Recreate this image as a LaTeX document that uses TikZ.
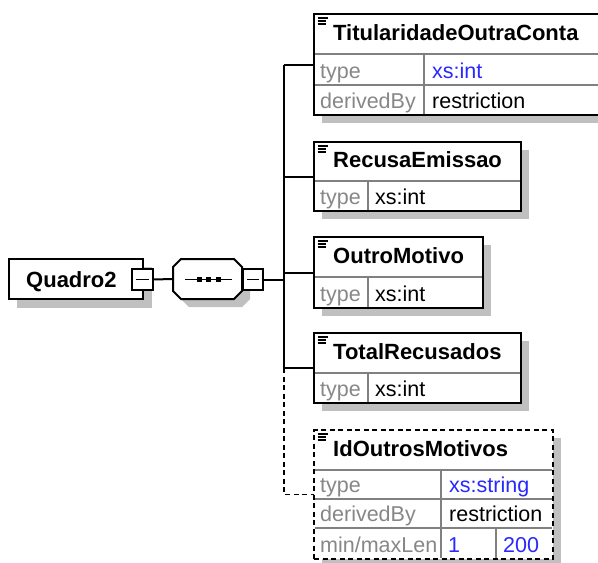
\documentclass[tikz,border=0pt]{standalone}
\usepackage{fontspec}
\setmainfont{Liberation Sans}
\definecolor{lblgray}{RGB}{135,135,135}
\definecolor{valblue}{RGB}{40,40,255}
\definecolor{shadowgray}{RGB}{192,192,192}
\definecolor{gridgray}{RGB}{128,128,128}
\newcommand\xsname{\fontsize{22}{25}\selectfont\bfseries}
\newcommand\xsrow{\fontsize{21.5}{24}\selectfont}
\tikzset{
  elembox/.style={draw=black, line width=2pt, fill=white, inner sep=0pt, outer sep=0pt, anchor=north west},
  dashbox/.style={elembox, dash pattern=on 5pt off 3.5pt},
  shadowfill/.style={fill=shadowgray, draw=none},
  gridline/.style={draw=gridgray, line width=1.2pt},
  conn/.style={draw=black, line width=2pt},
  dconn/.style={conn, line width=1.8pt, dash pattern=on 5pt off 3.5pt},
  nametext/.style={anchor=base west, inner sep=0pt, font=\xsname, text=black},
  lbltext/.style={anchor=base west, inner sep=0pt, font=\xsrow, text=lblgray},
  valtext/.style={anchor=base west, inner sep=0pt, font=\xsrow, text=black},
  bluetext/.style={valtext, text=valblue},
  iconline/.style={draw=black, line width=1.1pt},
  minusbox/.style={draw=black, line width=1.7pt, fill=white, minimum width=21pt, minimum height=21pt, inner sep=0pt, outer sep=0pt, anchor=north west},
  minusline/.style={draw=black, line width=1.2pt},
}
\begin{document}
\begin{tikzpicture}[x=1pt,y=-1pt]
\useasboundingbox (0,0) rectangle (598,563);
\clip (0,0) rectangle (598,563);
\fill[white] (0,0) rectangle (598,563);

% shadows
\fill[shadowfill] (17,267) rectangle (152,308);
\fill[shadowfill] (181,267) -- (242,267) -- (250,275) -- (250,299) -- (242,307) -- (189,307) -- (181,299) -- cycle;
\fill[shadowfill] (322,22) rectangle (613,123);
\fill[shadowfill] (322,150) rectangle (529,219);
\fill[shadowfill] (322,245) rectangle (491,316);
\fill[shadowfill] (322,341) rectangle (529,411);
\fill[shadowfill] (322,438) rectangle (561,567);

% Quadro2
\node[elembox, minimum width=134pt, minimum height=40pt] (q2) at (9,259) {};
\node[nametext] (q2t) at (26,287) {Quadro2};
\node[minusbox] (q2m) at (132,269) {};
\draw[minusline] (136,279.5) -- (149,279.5);

% sequence compositor
\node[inner sep=0pt, outer sep=0pt, minimum width=69pt, minimum height=40pt, anchor=north west] (seq) at (173,259) {};
\draw[conn, fill=white] (181,259) -- (234,259) -- (242,267) -- (242,291) -- (234,299) -- (181,299) -- (173,291) -- (173,267) -- cycle;
\draw[minusline, line width=1.5pt] (185,279.5) -- (232,279.5);
\fill (196.5,277) rectangle (201.5,282);
\fill (206,277) rectangle (211,282);
\fill (215.5,277) rectangle (220.5,282);
\node[minusbox, minimum width=20pt] (seqm) at (243,269) {};
\draw[minusline] (247,279.5) -- (259,279.5);

\coordinate (bus) at (284,279.5);

% element nodes
\node[elembox, minimum width=291pt, minimum height=101pt] (T) at (314,14) {};
\node[elembox, minimum width=207pt, minimum height=69pt] (R) at (314,142) {};
\node[elembox, minimum width=169pt, minimum height=71pt] (O) at (314,237) {};
\node[elembox, minimum width=207pt, minimum height=70pt] (TR) at (314,333) {};
\node[dashbox, line width=1.8pt, minimum width=239pt, minimum height=129pt] (I) at (314,430) {};

% connectors
\draw[conn] (q2m.east) -- (seq.west);
\draw[conn] (seqm.east) -- (bus);
\draw[conn] (bus |- T.west) -- (bus |- TR.west);
\draw[conn] (bus |- T.west) -- (T.west);
\draw[conn] (bus |- R.west) -- (R.west);
\draw[conn] (bus |- O.west) -- (O.west);
\draw[conn] (bus |- TR.west) -- (TR.west);
\draw[dconn] (bus |- TR.west) -- (bus |- I.west) -- (I.west);

% icons
\foreach \lx/\ty in {314/14, 314/142, 314/237, 314/333, 314/430}{
  \draw[iconline] (\lx+3.5,\ty+4) -- (\lx+13.5,\ty+4);
  \draw[iconline] (\lx+3.5,\ty+7) -- (\lx+12,\ty+7);
  \draw[iconline] (\lx+3.5,\ty+10) -- (\lx+12,\ty+10);
}

% TitularidadeOutraConta
\draw[gridline] (315,54) -- (604,54);
\draw[gridline] (315,85) -- (604,85);
\draw[gridline] (424,55) -- (424,114);
\node[nametext] at (333,40) {TitularidadeOutraConta};
\node[lbltext] at (320,78) {type};
\node[bluetext] at (432,78) {xs:int};
\node[lbltext] at (320,108) {derivedBy};
\node[valtext] at (432,108) {restriction};

% RecusaEmissao
\draw[gridline] (315,181) -- (520,181);
\draw[gridline] (368,182) -- (368,210);
\node[nametext] at (333,167) {RecusaEmissao};
\node[lbltext] at (320,204) {type};
\node[valtext] at (375,204) {xs:int};

% OutroMotivo
\draw[gridline] (315,277) -- (482,277);
\draw[gridline] (368,278) -- (368,307);
\node[nametext] at (333,263) {OutroMotivo};
\node[lbltext] at (320,301) {type};
\node[valtext] at (375,301) {xs:int};

% TotalRecusados
\draw[gridline] (315,373) -- (520,373);
\draw[gridline] (368,374) -- (368,402);
\node[nametext] at (333,359) {TotalRecusados};
\node[lbltext] at (320,396) {type};
\node[valtext] at (375,396) {xs:int};

% IdOutrosMotivos
\draw[gridline] (315,470) -- (552,470);
\draw[gridline] (315,499) -- (552,499);
\draw[gridline] (315,528) -- (552,528);
\draw[gridline] (441,471) -- (441,558);
\draw[gridline] (496,529) -- (496,558);
\node[nametext] at (333,456) {IdOutrosMotivos};
\node[lbltext] at (320,492) {type};
\node[bluetext] at (449,492) {xs:string};
\node[lbltext] at (320,521) {derivedBy};
\node[valtext] at (449,521) {restriction};
\node[lbltext] at (320,552) {min/maxLen};
\node[bluetext] at (448,552) {1};
\node[bluetext] at (503,552) {200};
\end{tikzpicture}
\end{document}
